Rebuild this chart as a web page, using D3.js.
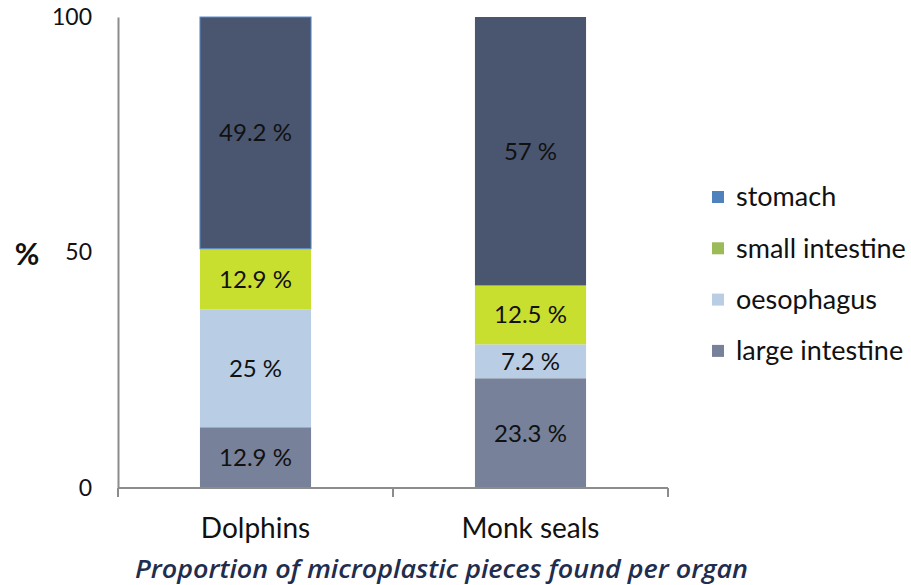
<!DOCTYPE html>
<html>
<head>
<meta charset="utf-8">
<title>Microplastic per organ</title>
<style>
body { margin: 0; background: #fff; }
svg { display: block; font-family: Lato, "Open Sans", sans-serif; }
</style>
<script src="https://cdn.jsdelivr.net/npm/d3@7"></script>
</head>
<body>
<div id="chart"></div>
<script>
// data
var animals = ["Dolphins", "Monk seals"];
var organs = ["large intestine", "oesophagus", "small intestine", "stomach"];
var largeIntestine = [12.9, 23.3];
var oesophagus = [25, 7.2];
var smallIntestine = [12.9, 12.5];
var stomach = [49.2, 57];
var yTicks = [0, 50, 100];
var legendOrder = ["stomach", "small intestine", "oesophagus", "large intestine"];

var barFill = {"large intestine": "#778199", "oesophagus": "#b9cde5", "small intestine": "#c9df2f", "stomach": "#4a5670"};
var legendFill = {"large intestine": "#778199", "oesophagus": "#b9cde5", "small intestine": "#9bbb59", "stomach": "#4f81bd"};

var W = 911, H = 585;
var mLeft = 118, mRight = 668, mTop = 17, mBottom = 488;

var rows = animals.map(function (a, i) {
	return {animal: a, "large intestine": largeIntestine[i], "oesophagus": oesophagus[i],
		"small intestine": smallIntestine[i], "stomach": stomach[i]};
});
var series = d3.stack().keys(organs)(rows);

var svg = d3.select("#chart").append("svg").attr("width", W).attr("height", H);

var x = d3.scaleBand().domain(animals).range([mLeft, mRight]);
var y = d3.scaleLinear().domain([0, 100]).range([mBottom, mTop]);
var bw = x.bandwidth() * 0.404;

// bars
series.forEach(function (s) {
	var g = svg.append("g");
	g.selectAll("rect").data(s).enter().append("rect")
		.attr("x", function (d) { return x(d.data.animal) + (x.bandwidth() - bw) / 2; })
		.attr("y", function (d) { return y(d[1]); })
		.attr("width", bw)
		.attr("height", function (d) { return y(d[0]) - y(d[1]); })
		.attr("fill", barFill[s.key])
		.attr("stroke", function (d) { return (s.key == "stomach" && d.data.animal == "Dolphins") ? "#5b8fd0" : "none"; })
		.attr("stroke-width", 1);
	g.selectAll("text").data(s).enter().append("text")
		.attr("x", function (d) { return x(d.data.animal) + x.bandwidth() / 2; })
		.attr("y", function (d) { return (y(d[0]) + y(d[1])) / 2; })
		.attr("dy", "0.35em")
		.attr("text-anchor", "middle")
		.attr("font-size", 24)
		.attr("fill", "#111")
		.text(function (d) { return (d[1] - d[0]).toFixed(1).replace(/\.0$/, "") + " %"; });
});

// y axis
var ya = svg.append("g").attr("transform", "translate(" + mLeft + ",0)")
	.call(d3.axisLeft(y).tickValues(yTicks).tickSize(0).tickPadding(26));
ya.select(".domain").attr("stroke", "#8c8c8c").attr("stroke-width", 2);
ya.selectAll("text").attr("font-size", 23).attr("fill", "#111").attr("font-family", "Lato, sans-serif");

// x axis
var xa = svg.append("g").attr("transform", "translate(0," + mBottom + ")");
xa.append("line").attr("x1", mLeft).attr("x2", mRight).attr("stroke", "#8c8c8c").attr("stroke-width", 2);
var xt = [mLeft].concat(animals.map(function (a) { return x(a) + x.bandwidth(); }));
xa.selectAll("line.tick").data(xt).enter().append("line")
	.attr("class", "tick")
	.attr("x1", function (d) { return d; }).attr("x2", function (d) { return d; })
	.attr("y1", 0).attr("y2", 9)
	.attr("stroke", "#8c8c8c").attr("stroke-width", 2);
xa.selectAll("text").data(animals).enter().append("text")
	.attr("x", function (d) { return x(d) + x.bandwidth() / 2; })
	.attr("y", 40)
	.attr("dy", "0.35em")
	.attr("text-anchor", "middle")
	.attr("font-size", 28)
	.attr("fill", "#111")
	.text(function (d) { return d; });

// % label
svg.append("text").attr("x", 27).attr("y", 254).attr("dy", "0.35em")
	.attr("text-anchor", "middle").attr("font-size", 30).attr("font-weight", "bold")
	.attr("fill", "#111").text("%");

// legend
var lg = svg.selectAll("g.legend").data(legendOrder).enter().append("g")
	.attr("class", "legend")
	.attr("transform", function (d, i) { return "translate(712," + (197 + i * 51.3) + ")"; });
lg.append("rect").attr("x", 0).attr("y", -6).attr("width", 12).attr("height", 12)
	.attr("fill", function (d) { return legendFill[d]; });
lg.append("text").attr("x", 24).attr("dy", "0.35em").attr("font-size", 27).attr("fill", "#111")
	.text(function (d) { return d; });

// caption
svg.append("text").attr("x", 135).attr("y", 569).attr("dy", "0.35em")
	.attr("font-size", 25).attr("font-style", "italic").attr("font-weight", 600)
	.attr("font-family", "'Open Sans', sans-serif")
	.attr("fill", "#1f2d4f")
	.attr("textLength", 613).attr("lengthAdjust", "spacingAndGlyphs")
	.text("Proportion of microplastic pieces found per organ");
</script>
</body>
</html>
